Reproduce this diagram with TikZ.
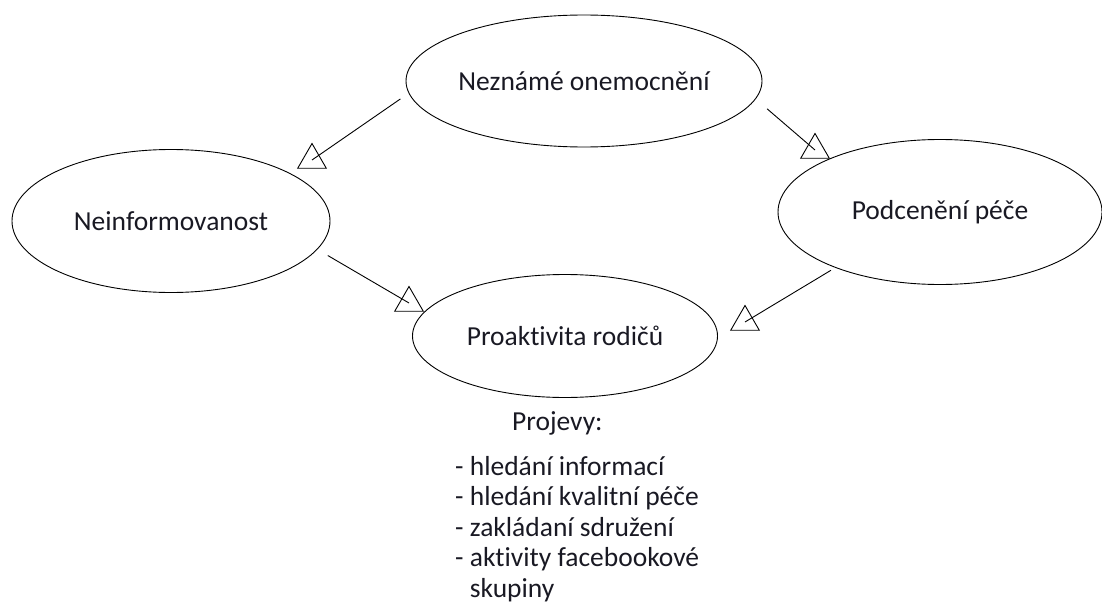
\documentclass[tikz,border=0pt]{standalone}
\usepackage{fontspec}
\setmainfont{Carlito}[Ligatures=NoCommon]
\usepackage{tikz}
\usetikzlibrary{shapes.geometric,positioning}
\definecolor{inkblack}{RGB}{25,25,35}

\begin{document}
\begin{tikzpicture}[
  x=1pt, y=-1pt,
  bubble/.style={ellipse, draw=black, line width=0.9pt, inner sep=0pt,
                 font=\fontsize{27.5}{32}\selectfont, text=inkblack},
  tip/.style={regular polygon, regular polygon sides=3, draw=black,
              line width=0.9pt, minimum size=33pt, inner sep=0pt},
  arr/.style={draw=black, line width=0.9pt},
  lbl/.style={font=\fontsize{27.5}{30.5}\selectfont, text=inkblack, inner sep=0pt},
]
\useasboundingbox (0,0) rectangle (1102,607);

% Row 0 — cause
\node[bubble, minimum width=356pt, minimum height=132pt] (nez)   at (584,81)  {Neznámé onemocnění};

% Row 1 — consequences
\node[bubble, minimum width=318pt, minimum height=143pt] (neinf) at (171,221) {Neinformovanost};
\node[bubble, minimum width=324pt, minimum height=145pt] (podc)  at (940,212) {Podcenění péče};

% Row 2 — result
\node[bubble, minimum width=305pt, minimum height=123pt] (proak) at (565,336) {Proaktivita rodičů};

% Projevy list (base = last line)
\node[lbl, anchor=base west] (proj) at (512,430) {Projevy:};
\node[lbl, anchor=base west, align=left] (list) at (455,597)
  {- hledání informací\\
   - hledání kvalitní péče\\
   - zakládaní sdružení\\
   - aktivity facebookové\\
   \hphantom{- }skupiny};

% Arrow ends
\coordinate (e1) at (312,160);
\coordinate (e2) at (815,150);
\coordinate (e3) at (409,303);
\coordinate (e4) at (745,322);

% Arrows
\draw[arr, shorten <=10pt] (nez.184)   -- (e1);
\draw[arr, shorten <=15pt] (nez.354)   -- (e2);
\draw[arr, shorten <=12pt] (neinf.349) -- (e3);
\draw[arr, shorten <=5pt]  (podc.208)  -- (e4);

\node[tip] (t1) at (e1) {};
\node[tip] (t2) at (e2) {};
\node[tip] (t3) at (e3) {};
\node[tip] (t4) at (e4) {};
\end{tikzpicture}
\end{document}
